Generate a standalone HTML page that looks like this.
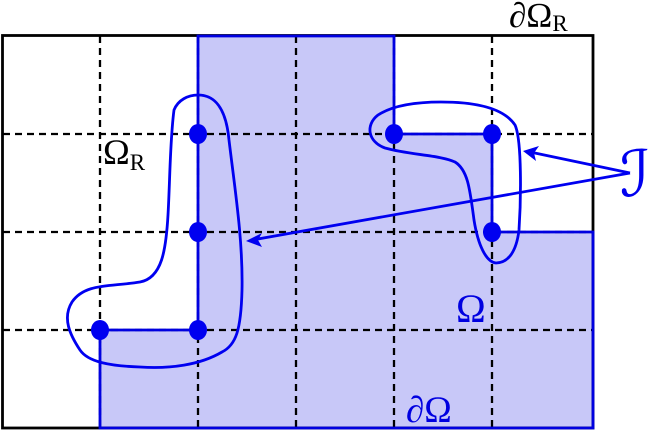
<!DOCTYPE html>
<html><head><style>
html,body{margin:0;padding:0;background:#fff;}
svg{display:block;}
.t{font-family:"Liberation Serif",serif;}
.I{font-family:"DejaVu Serif","DejaVu Sans",serif;font-size:64px;font-style:italic;}
</style></head><body>
<svg width="665" height="431" viewBox="0 0 665 431" xmlns="http://www.w3.org/2000/svg">
<polygon points="198,36 394,36 394,134 492,134 492,232 593,232 593,428 100,428 100,330 198,330" fill="#c8c8f8"/>
<g stroke="#000" stroke-width="2.3" stroke-dasharray="7,5" fill="none">
<line x1="100" y1="36" x2="100" y2="428"/>
<line x1="198" y1="36" x2="198" y2="428"/>
<line x1="296" y1="36" x2="296" y2="428"/>
<line x1="394" y1="36" x2="394" y2="428"/>
<line x1="492" y1="36" x2="492" y2="428"/>
<line x1="3" y1="134" x2="593" y2="134"/>
<line x1="3" y1="232" x2="593" y2="232"/>
<line x1="3" y1="330" x2="593" y2="330"/>
</g>
<rect x="2.5" y="35.5" width="590.5" height="392.5" fill="none" stroke="#000" stroke-width="2.8"/>
<polyline points="198,330 198,36 394,36 394,134 492,134 492,232 593,232 593,428 100,428 100,330 198,330" fill="none" stroke="#0000e0" stroke-width="2.8"/>
<g fill="#0000f0">
<ellipse cx="198" cy="134" rx="9" ry="10"/>
<ellipse cx="198" cy="232" rx="9" ry="10"/>
<ellipse cx="198" cy="330" rx="9" ry="10"/>
<ellipse cx="100" cy="330" rx="9" ry="10"/>
<ellipse cx="394" cy="134" rx="9" ry="10"/>
<ellipse cx="492" cy="134" rx="9" ry="10"/>
<ellipse cx="492" cy="232" rx="9" ry="10"/>
</g>
<g fill="none" stroke="#0000f0" stroke-width="2.8">
<path d="M198,95 C215,95 226,108 229,140 C235,190 243,240 242,290 C241,330 236,345 222,352 C200,365 170,369 140,367 C110,366 88,362 80,350 C70,335 62,318 72,302 C85,283 110,287 140,282 C162,278 166,250 168,215 C170,180 170,140 174,110 C178,100 188,95 198,95 Z"/>
<path d="M441,102 C480,102 505,110 515,125 C522,140 521,200 519,230 C516,255 506,263 496,263 C486,262 478,245 474,220 C470,190 468,170 455,162 C440,155 410,155 385,148 C368,142 365,125 378,115 C395,104 420,102 441,102 Z"/>
<line x1="630" y1="173" x2="530" y2="152"/>
<line x1="630" y1="173" x2="252" y2="240"/>
</g>
<path d="M523,151 L539,146 L534,153 L536,161 Z" fill="#0000f0"/>
<path d="M246,241 L262,233 L258,240 L262,247 Z" fill="#0000f0"/>
<text class="t" x="509" y="27" fill="#000" style="font-size:35px">∂Ω<tspan dy="4" style="font-size:23px">R</tspan></text>
<text class="t" x="103" y="164" fill="#000" style="font-size:36px">Ω<tspan dy="6" style="font-size:23px">R</tspan></text>
<text class="t" x="456" y="322" fill="#0000e0" style="font-size:40px">Ω</text>
<text class="t" x="406" y="422" fill="#0000e0" style="font-size:37px">∂Ω</text>
<text class="I" x="620" y="196" fill="#0000f0">ℐ</text>
</svg>
</body></html>
